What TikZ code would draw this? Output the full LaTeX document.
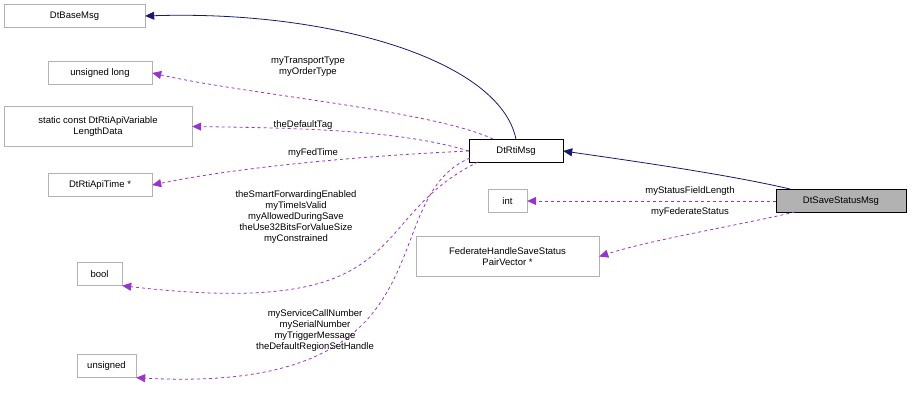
\documentclass[tikz,border=0pt]{standalone}
\usepackage{fontspec}
\setmainfont{Liberation Sans}
\usetikzlibrary{arrows.meta}
\definecolor{orchid}{RGB}{154,50,205}
\definecolor{navy}{RGB}{25,25,112}
\begin{document}
\begin{tikzpicture}[x=1pt,y=-1pt,
  box/.style={draw=gray!60,rectangle,inner sep=0pt,align=center,font=\fontsize{9.5}{11}\selectfont},
  inh/.style={draw=navy,-{Triangle[length=9pt,width=8pt]},thick},
  use/.style={draw=orchid,dashed,-{Triangle[length=9pt,width=8pt,fill=orchid]},thick},
  lab/.style={font=\fontsize{9.5}{11}\selectfont,align=center,inner sep=1pt}]
\useasboundingbox (0,0) rectangle (912,406);
\node[box,minimum width=141pt,minimum height=23pt] (base) at (74.5,16) {DtBaseMsg};
\node[box,minimum width=104pt,minimum height=23pt] (ulong) at (100,73) {unsigned long};
\node[box,minimum width=188pt,minimum height=40pt] (stat) at (98,126.5) {static const DtRtiApiVariable\\LengthData};
\node[box,minimum width=104pt,minimum height=23pt] (time) at (100,185) {DtRtiApiTime *};
\node[box,minimum width=45pt,minimum height=23pt] (bool) at (99.5,274) {bool};
\node[box,minimum width=59pt,minimum height=23pt] (uns) at (106.5,366) {unsigned};
\node[box,draw=black,minimum width=94pt,minimum height=23pt] (rti) at (516,151) {DtRtiMsg};
\node[box,minimum width=39pt,minimum height=23pt] (int) at (507.5,201) {int};
\node[box,minimum width=183pt,minimum height=40pt] (fed) at (507.5,256.5) {FederateHandleSaveStatus\\PairVector *};
\node[box,draw=black,fill=gray!60,minimum width=130pt,minimum height=23pt] (save) at (841,201) {DtSaveStatusMsg};

\coordinate (s1) at (790,189);
\coordinate (r1) at (493,139);
\coordinate (r2) at (478,162);
\coordinate (r3) at (470,158);
\coordinate (s2) at (795,212);
\draw[inh] (rti.north) .. controls (500,60) and (330,10) .. (base.east);
\draw[inh] (s1) .. controls (730,175) and (640,162) .. (rti.east);
\draw[use] (r1) .. controls (430,110) and (250,95) .. (ulong.east);
\draw[use] (rti.west) .. controls (400,130) and (300,128) .. (stat.east);
\draw[use] (rti.west) .. controls (380,155) and (250,165) .. (time.east);
\draw[use] (r2) .. controls (360,220) and (420,320) .. (bool.south east);
\draw[use] (r3) .. controls (370,200) and (460,395) .. (uns.south east);
\draw[use] (save.west) -- (int.east);
\draw[use] (s2) .. controls (740,225) and (650,240) .. (fed.east);

\node[lab] (l1) at (308,67) {myTransportType\\myOrderType};
\node[lab] (l2) at (303,125) {theDefaultTag};
\node[lab] (l3) at (313,153) {myFedTime};
\node[lab] (l4) at (296,217) {theSmartForwardingEnabled\\myTimeIsValid\\myAllowedDuringSave\\theUse32BitsForValueSize\\myConstrained};
\node[lab] (l5) at (315,331) {myServiceCallNumber\\mySerialNumber\\myTriggerMessage\\theDefaultRegionSetHandle};
\node[lab] (l6) at (690,191) {myStatusFieldLength};
\node[lab] (l7) at (690,212) {myFederateStatus};
\end{tikzpicture}
\end{document}
